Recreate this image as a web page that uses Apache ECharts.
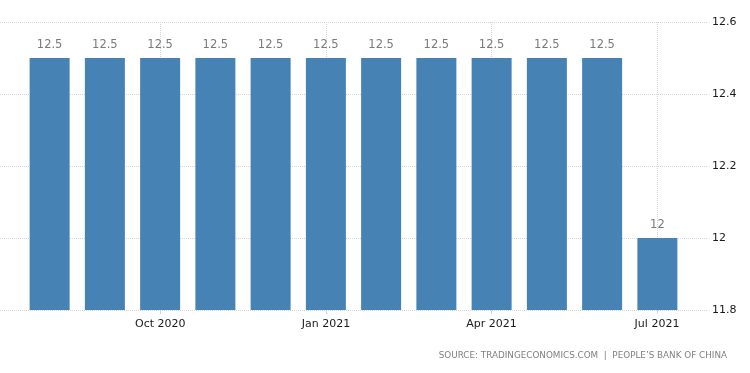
<!DOCTYPE html>
<html><head><meta charset="utf-8">
<script src="https://cdn.jsdelivr.net/npm/echarts@6/dist/echarts.min.js"></script>
<style>html,body{margin:0;padding:0;background:#fff}#c{width:750px;height:373px}</style>
</head><body><div id="c"></div>
<script>
const categories = ['Aug 2020','Sep 2020','Oct 2020','Nov 2020','Dec 2020','Jan 2021','Feb 2021','Mar 2021','Apr 2021','May 2021','Jun 2021','Jul 2021'];
const values = [12.5,12.5,12.5,12.5,12.5,12.5,12.5,12.5,12.5,12.5,12.5,12];
const yTicks = [11.8, 12, 12.2, 12.4, 12.6];
const shownLabels = ['Oct 2020','Jan 2021','Apr 2021','Jul 2021'];
const sourceText = 'SOURCE: TRADINGECONOMICS.COM  |  PEOPLE\u2019S BANK OF CHINA';

const chart = echarts.init(document.getElementById('c'));
const show = (i, v) => shownLabels.indexOf(categories[i]) >= 0;
const font = 'DejaVu Sans';
const yMin = yTicks[0], yMax = yTicks[yTicks.length-1];
chart.setOption({
  animation: false,
  grid: [
    {left: 22, right: 65, top: 22, bottom: 63},
    {left: 0, right: 43, top: 22, bottom: 63},
    {left: 50, right: 93, top: 22, bottom: 63}
  ],
  xAxis: [
    {type: 'category', gridIndex: 0, data: categories, boundaryGap: true, show: false},
    {type: 'value', gridIndex: 1, show: false},
    {type: 'category', gridIndex: 2, data: categories, boundaryGap: false,
     axisLine: {show: false},
     axisTick: {show: true, interval: show, length: 4, lineStyle: {color: '#d4d4d4'}},
     axisLabel: {interval: show, color: '#1a1a1a', fontFamily: font, fontSize: 11, margin: 9},
     splitLine: {show: true, interval: show, lineStyle: {color: '#d4d4d4', type: 'dotted'}}}
  ],
  yAxis: [
    {type: 'value', gridIndex: 0, min: yMin, max: yMax, interval: 0.2, show: false},
    {type: 'value', gridIndex: 1, position: 'right', min: yMin, max: yMax, interval: 0.2,
     axisLine: {show: false}, axisTick: {show: false},
     axisLabel: {color: '#1a1a1a', fontFamily: font, fontSize: 11, margin: 5,
       formatter: v => String(Math.round(v*10)/10)},
     splitLine: {show: true, lineStyle: {color: '#d4d4d4', type: 'dotted'}}},
    {type: 'value', gridIndex: 2, min: yMin, max: yMax, show: false}
  ],
  series: [{
    type: 'bar', xAxisIndex: 0, yAxisIndex: 0, data: values, barWidth: 40, clip: true,
    itemStyle: {color: '#4682B4'},
    label: {show: true, position: 'top', distance: 7, color: '#7a7a7a', fontFamily: font, fontSize: 11.5,
      formatter: p => String(p.value)}
  }],
  graphic: [{type: 'text', right: 23, top: 351,
    style: {text: sourceText, fill: '#808080', font: '8.8px "DejaVu Sans"'}}]
});
</script></body></html>
